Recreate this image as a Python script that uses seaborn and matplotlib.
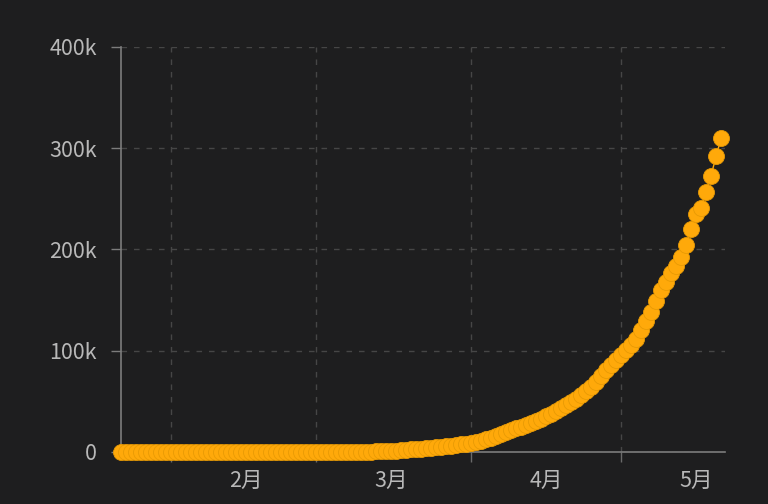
import numpy as np
import pandas as pd
import matplotlib
matplotlib.use("Agg")
import matplotlib.pyplot as plt
import matplotlib.dates as mdates
from matplotlib.ticker import FixedLocator, FixedFormatter, NullFormatter
import seaborn as sns

# ---- data ----
start_date = "2020-01-22"
cases = [
    1, 1, 2, 2, 5, 5, 5, 5, 5, 6,
    8, 8, 11, 11, 12, 12, 12, 12, 12, 13, 13, 14, 14, 14, 14, 14, 14, 15, 15,
    15, 35, 35, 35, 53, 57, 60, 60, 62, 68,
    80, 90, 110, 130, 150, 180, 210, 250, 300, 350, 400, 460, 520, 600, 700, 820, 950,
    1500, 2100, 2600, 3000, 3400, 3900, 4300, 4700, 5200, 5600, 6200, 6800, 7400, 8100,
    9000, 10000, 11200, 12500, 14000, 16000, 18000, 20000, 22000, 23500,
    25000, 26500, 28200, 30500, 33000, 35500, 38000, 40500, 43000, 46000,
    49000, 52500, 56000, 60000, 64500, 69500, 75000, 80500, 86000, 91000,
    96000, 100500, 105500, 112000, 120000, 129000, 138000, 149000, 160000, 168000,
    177000, 184000, 193000, 204000, 220000, 235000, 241000, 257000, 273000, 292000,
    310000,
]
month_starts = ["2020-02-01", "2020-03-01", "2020-04-01", "2020-05-01"]
month_label_pos = ["2020-02-16", "2020-03-16", "2020-04-16", "2020-05-16"]
month_labels = ["2月", "3月", "4月", "5月"]
y_ticks = [0, 100000, 200000, 300000, 400000]
y_labels = ["0", "100k", "200k", "300k", "400k"]

dates = pd.date_range(start_date, periods=len(cases), freq="D")
df = pd.DataFrame({"date": dates, "cases": cases})

# ---- style ----
BG = "#1e1e1f"
FG = "#b8b8b8"
sns.set_theme(style="dark")
plt.rcParams["font.family"] = ["Noto Sans CJK SC", "DejaVu Sans"]
plt.rcParams["axes.unicode_minus"] = False

fig = plt.figure(figsize=(7.68, 5.04), dpi=100, facecolor=BG)
ax = fig.add_axes([0.1576, 0.1032, 0.7865, 0.8036])
ax.set_facecolor(BG)

sns.lineplot(data=df, x="date", y="cases", ax=ax, color="#ffa90a", linewidth=1.0,
             marker="o", markersize=11.5, markeredgecolor="#e89a05",
             markeredgewidth=0.6, clip_on=False, zorder=5)

x0 = mdates.date2num(pd.Timestamp(start_date))
ax.set_xlim(x0, x0 + 120.8)
ax.set_ylim(0, 400000)

# grid
ms = [mdates.date2num(pd.Timestamp(d)) for d in month_starts]
ax.xaxis.set_major_locator(FixedLocator(ms))
ax.xaxis.set_major_formatter(NullFormatter())
mp = [mdates.date2num(pd.Timestamp(d)) for d in month_label_pos]
ax.xaxis.set_minor_locator(FixedLocator(mp))
ax.xaxis.set_minor_formatter(FixedFormatter(month_labels))
ax.set_yticks(y_ticks)
ax.set_yticklabels(y_labels)

ax.grid(True, which="major", color="#464646", linestyle=(0, (4, 5)), linewidth=1.0)
ax.grid(False, which="minor")

for s in ["top", "right"]:
    ax.spines[s].set_visible(False)
for s in ["left", "bottom"]:
    ax.spines[s].set_visible(True)
    ax.spines[s].set_color("#7c7c7c")
    ax.spines[s].set_linewidth(1.2)

ax.tick_params(axis="x", which="major", length=7.5, width=1, color="#6a6a6a",
               direction="out", bottom=True)
ax.tick_params(axis="x", which="minor", length=0, pad=13, labelsize=15.5,
               labelcolor=FG, bottom=True)
ax.tick_params(axis="y", which="major", length=7.5, width=1, color="#7c7c7c",
               direction="out", pad=10, labelsize=15.5, labelcolor=FG, left=True)

ax.set_xlabel("")
ax.set_ylabel("")
fig.savefig("out.png", dpi=100, facecolor=BG)
